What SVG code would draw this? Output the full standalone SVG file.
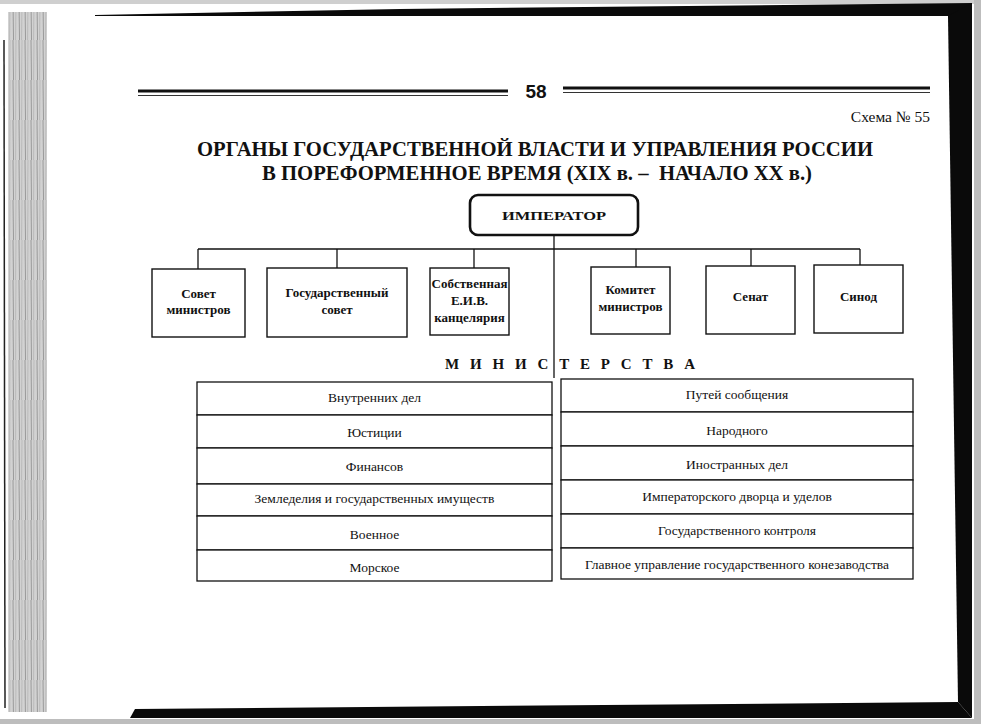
<svg xmlns="http://www.w3.org/2000/svg" width="981" height="724" viewBox="0 0 981 724">
<defs>
<style>
.box{fill:#fff;stroke:#111;stroke-width:1.4}
.row{fill:#fff;stroke:#111;stroke-width:1.3}
.ln{stroke:#111;stroke-width:1.3;fill:none}
.bt{font-family:"Liberation Serif","Times New Roman",serif;font-weight:bold;font-size:13px;fill:#111;text-anchor:middle}
.rt{font-family:"Liberation Serif","Times New Roman",serif;font-size:13.5px;fill:#111;text-anchor:middle}
.tt{font-family:"Liberation Serif","Times New Roman",serif;font-weight:bold;font-size:22px;fill:#111;text-anchor:middle}
</style>
<pattern id="edge" width="6" height="40" patternUnits="userSpaceOnUse">
<rect width="6" height="40" fill="#d2d2d2"/>
<line x1="1" y1="0" x2="1.5" y2="40" stroke="#8a8a8a" stroke-width="0.8"/>
<line x1="4" y1="0" x2="3.6" y2="40" stroke="#a8a8a8" stroke-width="0.6"/>
</pattern>
</defs>
<rect width="981" height="724" fill="#fff"/>
<g id="page-frame">
<rect x="0" y="0" width="981" height="4" fill="#cfcfcf"/>
<rect x="974" y="0" width="7" height="724" fill="#bdbdbd"/>
<rect x="0" y="719" width="981" height="5" fill="#bdbdbd"/>
<rect x="8" y="12" width="39" height="700" fill="url(#edge)"/>
<line x1="4" y1="40" x2="5" y2="708" stroke="#222" stroke-width="1.5"/>
<polygon points="95,15 400,9 972,3 972,16 948,16 95,16" fill="#0a0a0a"/>
<polygon points="948,16 972,3 972,718 958,702" fill="#0a0a0a"/>
<polygon points="135,709 958,702 972,718 130,718" fill="#0a0a0a"/>
</g>
<g id="header">
<line x1="138" y1="91" x2="508" y2="91" stroke="#111" stroke-width="3"/>
<line x1="138" y1="95.5" x2="508" y2="95.5" stroke="#333" stroke-width="1"/>
<line x1="563" y1="88" x2="930" y2="88" stroke="#111" stroke-width="3"/>
<line x1="563" y1="92.5" x2="930" y2="92.5" stroke="#333" stroke-width="1"/>
<text x="536" y="98" font-family="Liberation Sans,Arial,sans-serif" font-weight="bold" font-size="19" text-anchor="middle" fill="#111">58</text>
<text x="930" y="122" font-family="Liberation Serif,Times New Roman,serif" font-size="15.5" text-anchor="end" fill="#111">Схема № 55</text>
<text class="tt" x="535" y="156" textLength="676" lengthAdjust="spacingAndGlyphs">ОРГАНЫ ГОСУДАРСТВЕННОЙ ВЛАСТИ И УПРАВЛЕНИЯ РОССИИ</text>
<text class="tt" x="537" y="180" textLength="550" lengthAdjust="spacingAndGlyphs">В ПОРЕФОРМЕННОЕ ВРЕМЯ (XIX в. –&#160; НАЧАЛО XX в.)</text>
</g>
<g id="connectors">
<line class="ln" x1="554" y1="235" x2="554" y2="378"/>
<line class="ln" x1="198" y1="249" x2="860" y2="249"/>
<line class="ln" x1="198" y1="249" x2="198" y2="269"/>
<line class="ln" x1="337" y1="249" x2="337" y2="268"/>
<line class="ln" x1="474" y1="249" x2="474" y2="268"/>
<line class="ln" x1="636" y1="249" x2="636" y2="267"/>
<line class="ln" x1="751" y1="249" x2="751" y2="266"/>
<line class="ln" x1="860" y1="249" x2="860" y2="265"/>
</g>
<g id="emperor">
<rect x="470" y="195" width="168" height="40" rx="8" fill="#fff" stroke="#111" stroke-width="2.6"/>
<text class="bt" x="554" y="220" font-size="17" textLength="104" lengthAdjust="spacingAndGlyphs">ИМПЕРАТОР</text>
</g>
<g id="sovet-ministrov">
<rect class="box" x="152" y="269" width="93" height="68"/>
<text class="bt" x="198.5" y="298">Совет</text>
<text class="bt" x="198.5" y="314">министров</text>
</g>
<g id="gos-sovet">
<rect class="box" x="267" y="268" width="140" height="69"/>
<text class="bt" x="337" y="297">Государственный</text>
<text class="bt" x="337" y="314">совет</text>
</g>
<g id="kantselyariya">
<rect class="box" x="430" y="268" width="79" height="67"/>
<text class="bt" x="469.5" y="288">Собственная</text>
<text class="bt" x="469.5" y="305">Е.И.В.</text>
<text class="bt" x="469.5" y="322">канцелярия</text>
</g>
<g id="komitet-ministrov">
<rect class="box" x="591" y="267" width="79" height="67"/>
<text class="bt" x="630.5" y="294">Комитет</text>
<text class="bt" x="630.5" y="311">министров</text>
</g>
<g id="senat">
<rect class="box" x="706" y="266" width="89" height="68"/>
<text class="bt" x="750.5" y="301">Сенат</text>
</g>
<g id="sinod">
<rect class="box" x="814" y="265" width="89" height="68"/>
<text class="bt" x="858.5" y="301">Синод</text>
</g>
<g id="ministerstva-label">
<text x="445" y="369" font-family="Liberation Serif,Times New Roman,serif" font-weight="bold" font-size="15" fill="#111" textLength="250" lengthAdjust="spacing">М И Н И С Т Е Р С Т В А</text>
</g>
<g id="ministries-left">
<rect class="row" x="197" y="382" width="355" height="33"/>
<text class="rt" x="374.5" y="402">Внутренних дел</text>
<rect class="row" x="197" y="415" width="355" height="33"/>
<text class="rt" x="374.5" y="437">Юстиции</text>
<rect class="row" x="197" y="448" width="355" height="36"/>
<text class="rt" x="374.5" y="471">Финансов</text>
<rect class="row" x="197" y="484" width="355" height="32"/>
<text class="rt" x="374.5" y="503">Земледелия и государственных имуществ</text>
<rect class="row" x="197" y="516" width="355" height="34"/>
<text class="rt" x="374.5" y="539">Военное</text>
<rect class="row" x="197" y="550" width="355" height="31"/>
<text class="rt" x="374.5" y="572">Морское</text>
</g>
<g id="ministries-right">
<rect class="row" x="561" y="379" width="352" height="33"/>
<text class="rt" x="737" y="399">Путей сообщения</text>
<rect class="row" x="561" y="412" width="352" height="34"/>
<text class="rt" x="737" y="435">Народного</text>
<rect class="row" x="561" y="446" width="352" height="34"/>
<text class="rt" x="737" y="469">Иностранных дел</text>
<rect class="row" x="561" y="480" width="352" height="34"/>
<text class="rt" x="737" y="501">Императорского дворца и уделов</text>
<rect class="row" x="561" y="514" width="352" height="34"/>
<text class="rt" x="737" y="535">Государственного контроля</text>
<rect class="row" x="561" y="548" width="352" height="31"/>
<text class="rt" x="737" y="569">Главное управление государственного конезаводства</text>
</g>
</svg>
